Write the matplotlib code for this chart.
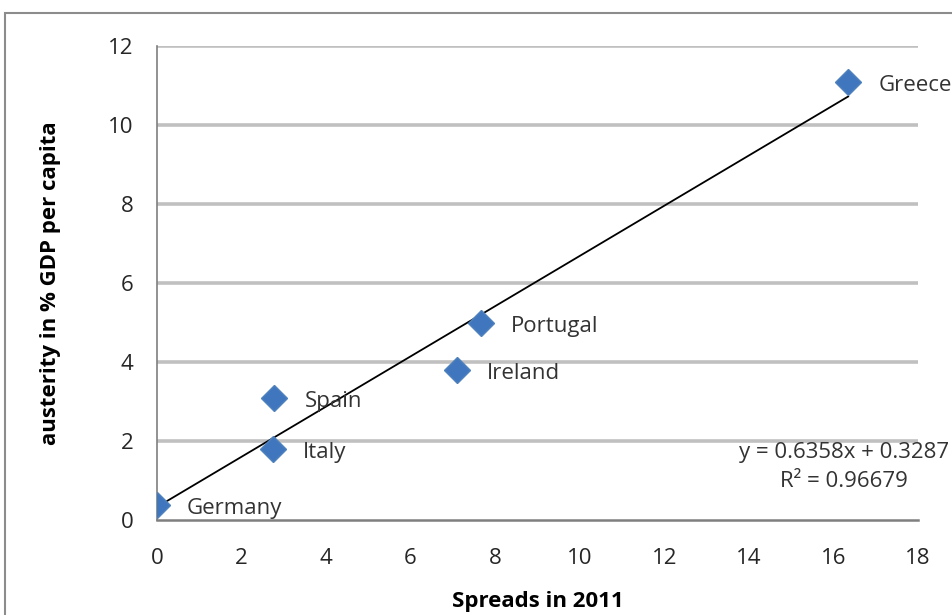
#!/usr/bin/env python3
"""
Austerity vs spreads in 2011 - scatter with linear trend line
"""

import numpy as np
import matplotlib.pyplot as plt
from matplotlib.patches import Rectangle

countries = ['Germany', 'Italy', 'Spain', 'Ireland', 'Portugal', 'Greece']
spreads = [0.0, 2.75, 2.78, 7.1, 7.66, 16.35]
austerity = [0.38, 1.8, 3.1, 3.8, 5.0, 11.1]

slope = 0.6358
intercept = 0.3287
r_squared = 0.96679

x_ticks = [0, 2, 4, 6, 8, 10, 12, 14, 16, 18]
y_ticks = [0, 2, 4, 6, 8, 10, 12]

plt.rcParams['font.family'] = ['Open Sans', 'DejaVu Sans']
FS = 16

fig = plt.figure(figsize=(9.53, 6.15), dpi=100)
ax = fig.add_axes([0.1647, 0.1545, 0.7985, 0.7705])

# outer chart border
fig.patches.append(Rectangle((5 / 953, -0.05), 1.1, 0.979 + 0.05,
                             transform=fig.transFigure, fill=False,
                             edgecolor='#8c8c8c', linewidth=1.5, clip_on=False))

# gridlines
for y in y_ticks[1:]:
    ax.axhline(y, color='#c0c0c0', linewidth=2.6, zorder=0)

# trend line
x_fit = np.array([0, max(spreads)])
ax.plot(x_fit, slope * x_fit + intercept, color='black', linewidth=1.3, zorder=2)

# points
ax.plot(spreads, austerity, linestyle='none', marker='D', markersize=13,
        color='#3f76bd', markeredgecolor='#4f81bd', zorder=3)

for name, x, y in zip(countries, spreads, austerity):
    ax.annotate(name, (x, y), xytext=(30, -4), textcoords='offset pixels',
                ha='left', va='center', fontsize=FS, color='#333333')

ax.text(16.25, 1.33, f'y = {slope}x + {intercept}\nR² = {r_squared}',
        ha='center', va='center', fontsize=FS, color='#333333',
        linespacing=1.5, clip_on=False)

ax.set_xlim(0, 18)
ax.set_ylim(0, 12)
ax.set_xticks(x_ticks)
ax.set_yticks(y_ticks)
ax.tick_params(axis='x', length=0, pad=20, labelsize=FS, labelcolor='#262626')
ax.tick_params(axis='y', length=0, pad=17, labelsize=FS, labelcolor='#262626')

for side in ['top', 'right']:
    ax.spines[side].set_visible(False)
ax.spines['bottom'].set_color('#7f7f7f')
ax.spines['bottom'].set_linewidth(1.8)
ax.spines['left'].set_color('#7f7f7f')
ax.spines['left'].set_linewidth(1.2)

ax.set_xlabel('Spreads in 2011', fontsize=FS, fontweight='bold', labelpad=16)
ax.set_ylabel('austerity in % GDP per capita', fontsize=FS, fontweight='bold', labelpad=34)

plt.savefig('out.png', dpi=100)
